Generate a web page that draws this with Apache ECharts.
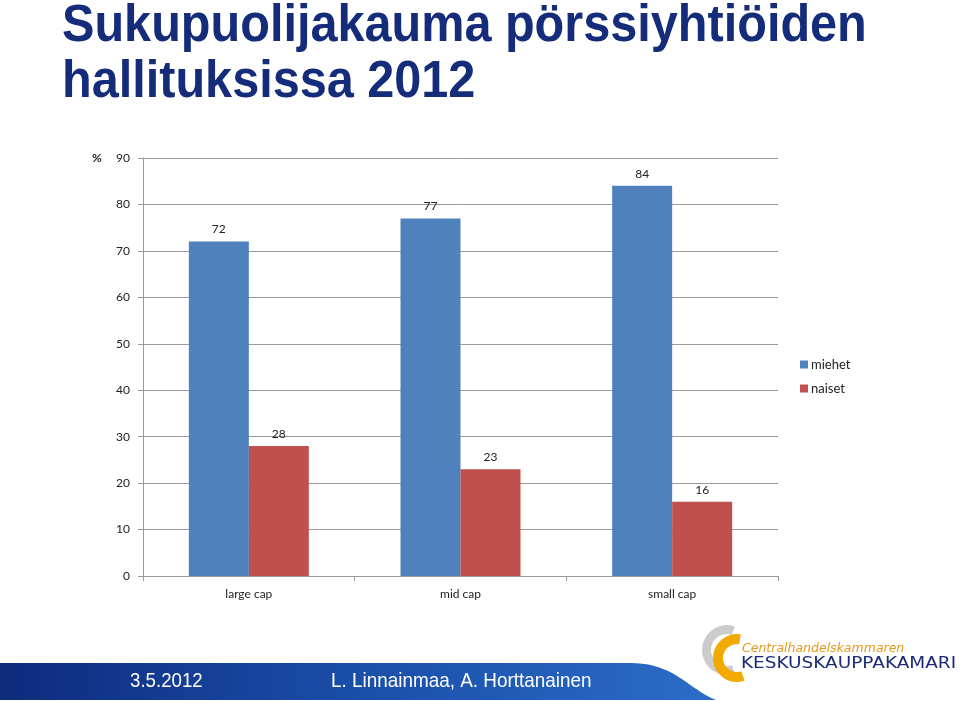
<!DOCTYPE html>
<html>
<head>
<meta charset="utf-8">
<script src="https://cdn.jsdelivr.net/npm/echarts@6/dist/echarts.min.js"></script>
<style>
  html, body { margin: 0; padding: 0; background: #fff; }
  #chart { width: 960px; height: 701px; }
</style>
</head>
<body>
<div id="chart"></div>
<script>
// kategoriat ja arvot (%)
const categories = ['large cap', 'mid cap', 'small cap'];
const miehet = [72, 77, 84];
const naiset = [28, 23, 16];
const seriesNames = ['miehet', 'naiset'];

const chart = echarts.init(document.getElementById('chart'), null, { renderer: 'canvas' });

// alapalkin muoto: suora yläreuna joka kaartuu alas oikealla
function bandPoints() {
  const pts = [[0, 663], [630, 663]];
  const p0 = [630, 663], p1 = [675, 663], p2 = [688, 689], p3 = [716, 700];
  for (let i = 1; i <= 20; i++) {
    const t = i / 20, u = 1 - t;
    pts.push([
      u * u * u * p0[0] + 3 * u * u * t * p1[0] + 3 * u * t * t * p2[0] + t * t * t * p3[0],
      u * u * u * p0[1] + 3 * u * u * t * p1[1] + 3 * u * t * t * p2[1] + t * t * t * p3[1]
    ]);
  }
  pts.push([0, 700]);
  return pts;
}

const labelStyle = {
  show: true,
  position: 'top',
  distance: 6,
  fontFamily: 'Lato',
  fontSize: 12,
  color: '#222'
};

const option = {
  animation: false,
  backgroundColor: '#fff',
  grid: { left: 143, right: 182, top: 158, bottom: 125 },
  legend: {
    orient: 'vertical',
    left: 795,
    top: 353,
    itemWidth: 8,
    itemHeight: 8,
    itemGap: 11,
    icon: 'rect',
    textStyle: { fontFamily: 'Lato', fontSize: 13, color: '#222', padding: [0, 0, 0, -2] },
    data: seriesNames
  },
  xAxis: {
    type: 'category',
    data: categories,
    axisLine: { lineStyle: { color: '#9a9a9a' } },
    axisTick: { show: true, length: 5, lineStyle: { color: '#9a9a9a' } },
    axisLabel: { fontFamily: 'Lato', fontSize: 12, color: '#222', margin: 12 }
  },
  yAxis: {
    type: 'value',
    min: 0,
    max: 90,
    interval: 10,
    axisLine: { show: true, lineStyle: { color: '#9a9a9a' } },
    axisTick: { show: true, length: 5, lineStyle: { color: '#9a9a9a' } },
    splitLine: { lineStyle: { color: '#9a9a9a' } },
    axisLabel: { fontFamily: 'Lato', fontSize: 12, color: '#222', margin: 13 }
  },
  series: [
    {
      name: seriesNames[0],
      type: 'bar',
      data: miehet,
      barWidth: 60,
      barGap: '0%',
      itemStyle: { color: '#4F81BD' },
      label: labelStyle
    },
    {
      name: seriesNames[1],
      type: 'bar',
      data: naiset,
      barWidth: 60,
      barGap: '0%',
      itemStyle: { color: '#C0504D' },
      label: labelStyle
    }
  ],
  graphic: [
    // otsikko
    {
      type: 'text', x: 62, y: -1, scaleX: 0.953,
      style: {
        text: 'Sukupuolijakauma pörssiyhtiöiden\nhallituksissa 2012',
        fontFamily: 'Liberation Sans', fontWeight: 'bold', fontSize: 51,
        lineHeight: 56, fill: '#152C7A', verticalAlign: 'top'
      }
    },
    {
      type: 'text', left: 92, top: 152,
      style: { text: '%', fontFamily: 'Lato', fontSize: 12, fontWeight: 'bold', fill: '#222' }
    },
    // alapalkki
    {
      type: 'polygon',
      shape: { points: bandPoints() },
      style: {
        fill: {
          type: 'linear', x: 0, y: 0, x2: 1, y2: 0,
          colorStops: [
            { offset: 0, color: '#0e2b7c' },
            { offset: 0.5, color: '#1a4ea9' },
            { offset: 1, color: '#2b6dc8' }
          ]
        }
      }
    },
    {
      type: 'text', x: 130, y: 671, scaleX: 0.89,
      style: { text: '3.5.2012', fontFamily: 'Liberation Sans', fontSize: 21, fill: '#fff', verticalAlign: 'top' }
    },
    {
      type: 'text', x: 331, y: 671, scaleX: 0.9,
      style: { text: 'L. Linnainmaa, A. Horttanainen', fontFamily: 'Liberation Sans', fontSize: 21, fill: '#fff', verticalAlign: 'top' }
    },
    // logo
    {
      type: 'sector',
      shape: { cx: 727, cy: 650, r0: 16, r: 25, startAngle: Math.PI * 0.4, endAngle: Math.PI * 1.6, clockwise: true },
      style: { fill: '#cccccc' }
    },
    {
      type: 'sector',
      shape: { cx: 737, cy: 658, r0: 14, r: 24, startAngle: Math.PI * 0.4, endAngle: Math.PI * 1.55, clockwise: true },
      style: { fill: '#f2a900' }
    },
    {
      type: 'text', x: 742, y: 642,
      style: { text: 'Centralhandelskammaren', fontFamily: 'DejaVu Sans', fontStyle: 'italic', fontSize: 12.5, fill: '#e59a1c', verticalAlign: 'top' }
    },
    {
      type: 'text', x: 741, y: 657, scaleX: 1.23,
      style: { text: 'KESKUSKAUPPAKAMARI', fontFamily: 'DejaVu Sans', fontSize: 15, fill: '#1C2B78', verticalAlign: 'top' }
    }
  ]
};

chart.setOption(option);
window.addEventListener('resize', () => chart.resize());
</script>
</body>
</html>
